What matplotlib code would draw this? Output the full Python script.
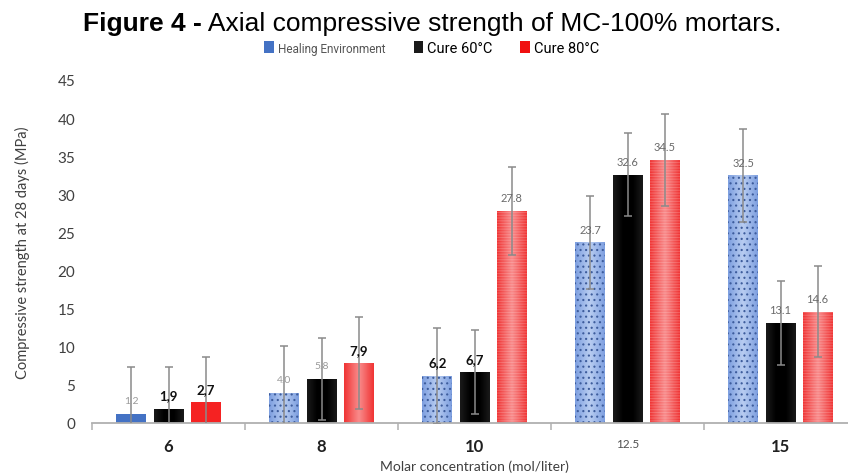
import numpy as np
import matplotlib
matplotlib.use("Agg")
import matplotlib.pyplot as plt
from matplotlib.colors import LinearSegmentedColormap
from matplotlib.patches import Patch

# ---- data -------------------------------------------------------------
concentrations = ["6", "8", "10", "12.5", "15"]
series_names = ["Healing Environment", "Cure 60°C", "Cure 80°C"]
healing = [1.2, 4.0, 6.2, 23.7, 32.5]
cure60 = [1.9, 5.8, 6.7, 32.6, 13.1]
cure80 = [2.7, 7.9, 27.8, 34.5, 14.6]
err_healing = [6.1, 6.1, 6.3, 6.1, 6.1]
err_cure60 = [5.4, 5.4, 5.5, 5.4, 5.5]
err_cure80 = [6.0, 6.0, 5.8, 6.0, 6.0]
# labels written with a decimal comma and in bold
bold_labels = {(0, 1), (0, 2), (1, 2), (2, 0), (2, 1)}

values = [healing, cure60, cure80]
errors = [err_healing, err_cure60, err_cure80]

# ---- styling ----------------------------------------------------------
plt.rcParams["font.family"] = ["Lato", "DejaVu Sans"]
plt.rcParams["hatch.linewidth"] = 0.8

W, H = 848, 477
fig = plt.figure(figsize=(W / 100, H / 100), dpi=100)
ax = fig.add_axes([92 / W, 53 / H, 765 / W, 343 / H])

x = np.arange(len(concentrations))
step = 0.242
width = 0.196
offsets = [-step, 0.0, step]

base_colors = ["#4472c4", "#000000", "#f52222"]
grad_maps = [
    LinearSegmentedColormap.from_list("blue", ["#7d9fe0", "#b9cdf1", "#7d9fe0"]),
    LinearSegmentedColormap.from_list("black", ["#1a1a1a", "#000000", "#000000", "#1a1a1a"]),
    LinearSegmentedColormap.from_list("red", ["#f03434", "#f98c8c", "#f03434"]),
]
grad = np.linspace(0, 1, 64).reshape(1, -1)

for s in range(3):
    bars = ax.bar(x + offsets[s], values[s], width, color=base_colors[s],
                  linewidth=0, zorder=2, label=series_names[s])
    for i, b in enumerate(bars):
        # first concentration drawn as plain solid fill
        if i == 0 and s != 1:
            continue
        x0, y0 = b.get_x(), b.get_y()
        im = ax.imshow(grad, cmap=grad_maps[s], aspect="auto",
                       extent=(x0, x0 + b.get_width(), y0, y0 + b.get_height()),
                       zorder=2.1, interpolation="bicubic")
        im.set_clip_path(b)
        if s == 0:
            ax.bar(b.get_x() + b.get_width() / 2, b.get_height(), b.get_width(),
                   facecolor="none", edgecolor="#3d5c9c", hatch="...",
                   linewidth=0, zorder=2.2)
        if s == 2 and i >= 2:
            ax.bar(b.get_x() + b.get_width() / 2, b.get_height(), b.get_width(),
                   facecolor="none", edgecolor=(1, 1, 1, 0.18), hatch="------",
                   linewidth=0, zorder=2.2)

    ax.errorbar(x + offsets[s], values[s], yerr=errors[s], fmt="none",
                ecolor="#8a8a8a", elinewidth=1.1, capsize=2.6, capthick=1.1,
                zorder=3)

    for i, v in enumerate(values[s]):
        if (i, s) in bold_labels:
            txt = f"{v:.1f}".replace(".", ",")
            kw = dict(fontsize=9.5, fontweight="bold", color="#111111")
        else:
            txt = f"{v:.1f}"
            small = v < 10
            kw = dict(fontsize=7.5 if small else 8,
                      color="#9a9a9a" if small else "#6a6a6a")
        ax.annotate(txt, (x[i] + offsets[s], v), xytext=(0, 9.5),
                    textcoords="offset points", ha="center", va="center",
                    zorder=4, **kw)

# axes
ax.set_ylim(0, 45)
ax.set_yticks(np.arange(0, 46, 5))
ax.set_xlim(-0.5, 4.5)
for side in ("top", "right", "left"):
    ax.spines[side].set_visible(False)
ax.spines["bottom"].set_color("#b0b0b0")
ax.spines["bottom"].set_linewidth(1.3)
ax.tick_params(axis="y", length=0, pad=12, labelsize=11, labelcolor="#404040")

ax.set_xticks(np.arange(-0.5, 5, 1.0))
ax.set_xticklabels([])
ax.tick_params(axis="x", which="major", length=5, width=1.1, color="#b0b0b0")
ax.set_xticks(x, minor=True)
ax.set_xticklabels(concentrations, minor=True)
ax.tick_params(axis="x", which="minor", length=0, pad=11, labelcolor="#202020")
for lbl in ax.get_xticklabels(minor=True):
    if lbl.get_text() == "12.5":
        lbl.set_fontsize(8.5)
        lbl.set_color("#505050")
    else:
        lbl.set_fontsize(12)
        lbl.set_fontweight("bold")

ax.set_ylabel("Compressive strength at 28 days (MPa)", fontsize=10.5,
              color="#404040", labelpad=20)
ax.set_xlabel("Molar concentration (mol/liter)", fontsize=10, color="#404040",
              labelpad=4)

# title
t1 = fig.text(83 / W, 1 - 31 / H, "Figure 4 -", fontsize=19, fontweight="bold",
              family=["Liberation Sans"], ha="left", va="baseline")
ax.annotate(" Axial compressive strength of MC-100% mortars.", xy=(1, 0),
            xycoords=t1, va="bottom", ha="left", fontsize=19,
            family=["Liberation Sans"], annotation_clip=False)

# legend
handles = [Patch(facecolor=c) for c in ["#4472c4", "#1a1a1a", "#f01010"]]
leg = fig.legend(handles, series_names, loc="center", ncol=3,
                 bbox_to_anchor=(432 / W, 1 - 49 / H), frameon=False,
                 handlelength=0.65, handleheight=0.9, handletextpad=0.3,
                 columnspacing=1.9, prop={"family": ["Roboto"], "size": 10.5})
leg.get_texts()[0].set_fontsize(8.5)
leg.get_texts()[0].set_color("#555555")

fig.savefig("out.png", dpi=100)
